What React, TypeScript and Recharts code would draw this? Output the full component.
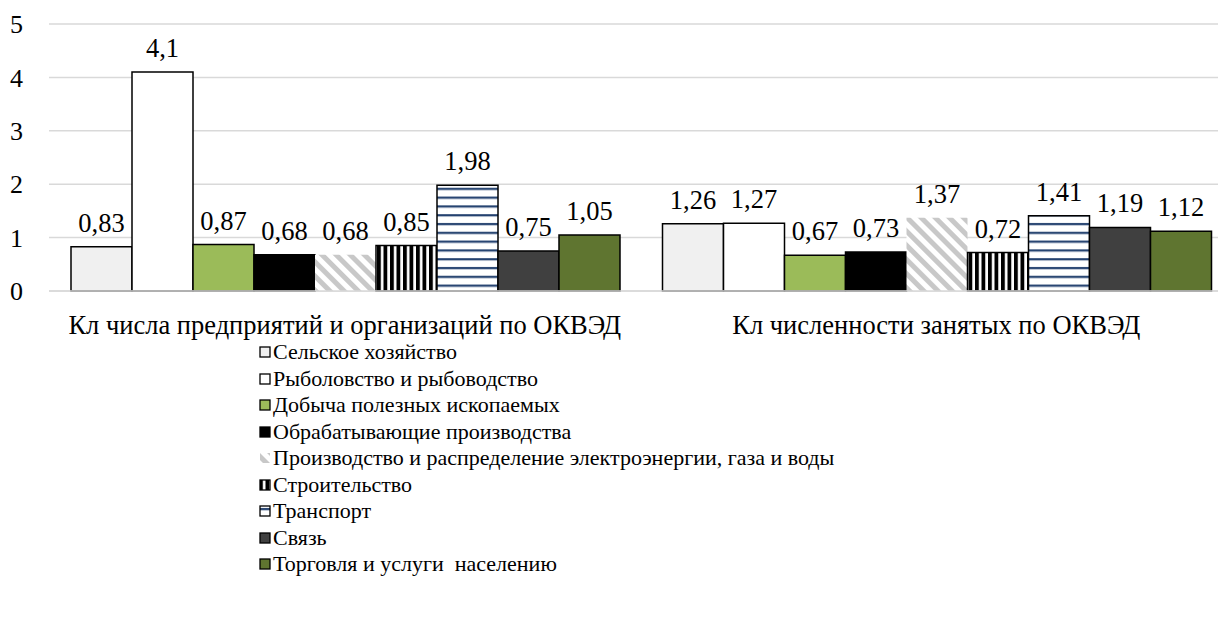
import React from "react";
import {
  BarChart,
  Bar,
  XAxis,
  YAxis,
  CartesianGrid,
  LabelList,
} from "recharts";

// categories on the x axis
const CATEGORIES = [
  "Кл числа предприятий и организаций по ОКВЭД",
  "Кл численности занятых по ОКВЭД",
];

// one array per branch, in the order of CATEGORIES
const AGRICULTURE = [0.83, 1.26];
const FISHING = [4.1, 1.27];
const MINING = [0.87, 0.67];
const MANUFACTURING = [0.68, 0.73];
const ENERGY = [0.68, 1.37];
const CONSTRUCTION = [0.85, 0.72];
const TRANSPORT = [1.98, 1.41];
const COMMUNICATION = [0.75, 1.19];
const TRADE = [1.05, 1.12];

const Y_TICKS = [0, 1, 2, 3, 4, 5];

const FONT = '"Liberation Serif", "Times New Roman"';

interface SeriesDef {
  key: string;
  name: string;
  values: number[];
  fill: string;
  stroke: string;
}

const SERIES: SeriesDef[] = [
  { key: "s1", name: "Сельское хозяйство", values: AGRICULTURE, fill: "#f0f0f0", stroke: "#000" },
  { key: "s2", name: "Рыболовство и рыбоводство", values: FISHING, fill: "#ffffff", stroke: "#000" },
  { key: "s3", name: "Добыча полезных ископаемых", values: MINING, fill: "#9bbb59", stroke: "#000" },
  { key: "s4", name: "Обрабатывающие производства", values: MANUFACTURING, fill: "#000000", stroke: "#000" },
  { key: "s5", name: "Производство и распределение электроэнергии, газа и воды", values: ENERGY, fill: "url(#diagGray)", stroke: "none" },
  { key: "s6", name: "Строительство", values: CONSTRUCTION, fill: "url(#vertBlack)", stroke: "#000" },
  { key: "s7", name: "Транспорт", values: TRANSPORT, fill: "url(#horizNavy)", stroke: "#000" },
  { key: "s8", name: "Связь", values: COMMUNICATION, fill: "#404040", stroke: "#000" },
  { key: "s9", name: "Торговля и услуги  населению", values: TRADE, fill: "#5f7530", stroke: "#000" },
];

const data = CATEGORIES.map((name, i) => {
  const row: Record<string, string | number> = { name };
  SERIES.forEach((s) => {
    row[s.key] = s.values[i];
  });
  return row;
});

const fmt = (v: any) => String(v).replace(".", ",");

const Patterns = () => (
  <svg width={0} height={0} style={{ position: "absolute" }}>
    <defs>
      <pattern id="diagGray" patternUnits="userSpaceOnUse" width={10} height={10} patternTransform="rotate(45)">
        <rect width={10} height={10} fill="#ffffff" />
        <rect width={10} height={5} fill="#c8c8c8" />
      </pattern>
      <pattern id="vertBlack" patternUnits="userSpaceOnUse" width={6.5} height={10}>
        <rect width={6.5} height={10} fill="#ffffff" />
        <rect width={3.8} height={10} fill="#000000" />
      </pattern>
      <pattern id="horizNavy" patternUnits="userSpaceOnUse" width={10} height={8.8}>
        <rect width={10} height={8.8} fill="#ffffff" />
        <rect y={3} width={10} height={2.2} fill="#22406e" />
      </pattern>
    </defs>
  </svg>
);

const LegendBlock = () => (
  <div
    style={{
      position: "absolute",
      left: 259,
      top: 339,
      fontFamily: FONT,
      fontSize: 22,
      lineHeight: "26.5px",
      color: "#000",
    }}
  >
    {SERIES.map((s) => (
      <div key={s.key} style={{ display: "flex", alignItems: "center", whiteSpace: "pre" }}>
        <svg width={13} height={12} style={{ marginRight: 1 }}>
          {s.key === "s5" ? (
            <rect x={1} y={1} width={10} height={10} fill="url(#diagGray)" />
          ) : (
            <rect x={1} y={1} width={10} height={10} fill={s.fill} stroke={s.stroke} strokeWidth={1.3} />
          )}
        </svg>
        <span>{s.name}</span>
      </div>
    ))}
  </div>
);

const App: React.FC = () => {
  return (
    <div
      style={{
        position: "absolute",
        left: 0,
        top: 0,
        width: 1218,
        height: 641,
        overflow: "hidden",
        background: "#fff",
        fontFamily: FONT,
      }}
    >
      <Patterns />
      <BarChart
        width={1232}
        height={345}
        data={data}
        margin={{ top: 24, right: 0, bottom: 0, left: 0 }}
        barCategoryGap={22}
        barGap={0}
        style={{ fontFamily: FONT }}
      >
        <CartesianGrid vertical={false} stroke="#d9d9d9" strokeWidth={1.5} />
        <XAxis
          dataKey="name"
          height={54}
          tickLine={false}
          axisLine={{ stroke: "#d9d9d9", strokeWidth: 1.5 }}
          tick={{ fill: "#000", fontSize: 26.5, fontFamily: FONT }}
          tickMargin={18}
          interval={0}
        />
        <YAxis
          width={49}
          domain={[0, 5]}
          ticks={Y_TICKS}
          tickLine={false}
          axisLine={false}
          tickSize={0}
          tickMargin={26}
          tick={{ fill: "#000", fontSize: 26, fontFamily: FONT }}
        />
        {SERIES.map((s) => (
          <Bar
            key={s.key}
            dataKey={s.key}
            name={s.name}
            fill={s.fill}
            stroke={s.stroke}
            strokeWidth={1.5}
            isAnimationActive={false}
          >
            <LabelList
              dataKey={s.key}
              position="top"
              offset={15}
              formatter={fmt}
              style={{ fill: "#000", fontSize: 26.5, fontFamily: FONT }}
            />
          </Bar>
        ))}
      </BarChart>
      <LegendBlock />
    </div>
  );
};

export default App;
